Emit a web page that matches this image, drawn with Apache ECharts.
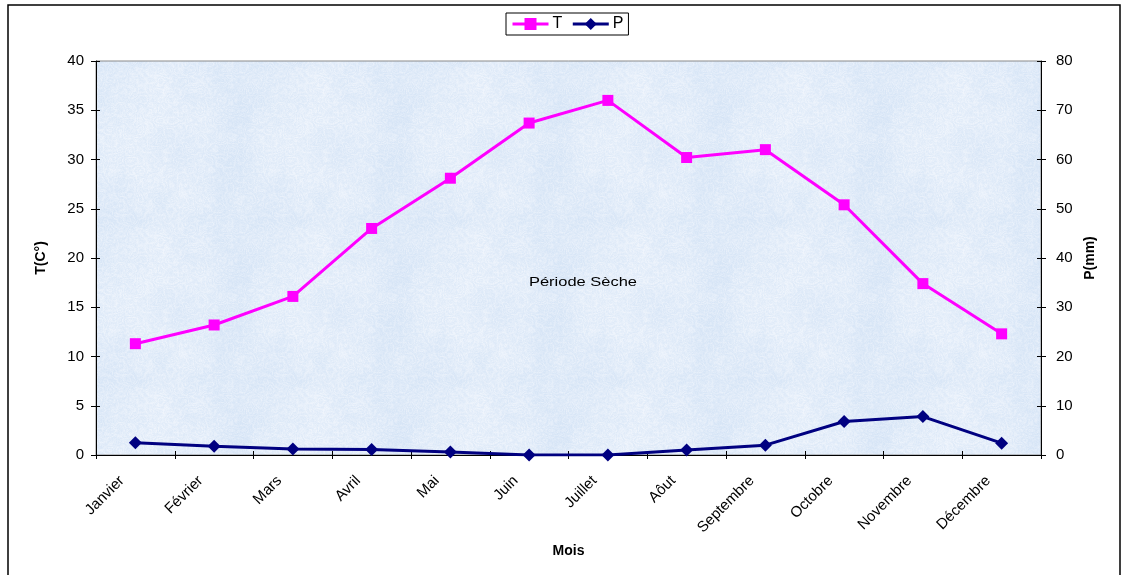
<!DOCTYPE html>
<html>
<head>
<meta charset="utf-8">
<script src="https://cdn.jsdelivr.net/npm/echarts@6/dist/echarts.min.js"></script>
<style>
  html, body { margin: 0; padding: 0; background: #fff; }
  #chart { width: 1126px; height: 575px; }
</style>
</head>
<body>
<div id="chart"></div>
<script>
// Monthly climate data: mean temperature (°C) and precipitation (mm)
const months = ['Janvier', 'Février', 'Mars', 'Avril', 'Mai', 'Juin',
                'Juillet', 'Aôut', 'Septembre', 'Octobre', 'Novembre', 'Décembre'];
const temperature = [11.3, 13.2, 16.1, 23.0, 28.1, 33.7, 36.0, 30.2, 31.0, 25.4, 17.4, 12.3];
const precipitation = [2.5, 1.8, 1.2, 1.1, 0.6, 0.0, 0.0, 1.0, 2.0, 6.8, 7.8, 2.4];

const FONT = 'Liberation Sans, Arial, sans-serif';

// Light blue marbled fill for the plot area (deterministic hashed value noise)
function marbleTexture(size) {
  const c = document.createElement('canvas');
  c.width = c.height = size;
  const ctx = c.getContext('2d');
  const img = ctx.createImageData(size, size);
  const hash = (x, y, s) => {
    const v = Math.sin(x * 127.1 + y * 311.7 + s * 74.7) * 43758.5453;
    return v - Math.floor(v);
  };
  const smooth = (x, y, cell, s) => {
    const n = size / cell;
    const gx = x / cell, gy = y / cell;
    const x0 = Math.floor(gx), y0 = Math.floor(gy);
    const fx = gx - x0, fy = gy - y0;
    const ux = fx * fx * (3 - 2 * fx), uy = fy * fy * (3 - 2 * fy);
    const a = hash(x0 % n, y0 % n, s), b = hash((x0 + 1) % n, y0 % n, s);
    const d = hash(x0 % n, (y0 + 1) % n, s), e = hash((x0 + 1) % n, (y0 + 1) % n, s);
    return (a * (1 - ux) + b * ux) * (1 - uy) + (d * (1 - ux) + e * ux) * uy;
  };
  for (let y = 0; y < size; y++) {
    for (let x = 0; x < size; x++) {
      const low = smooth(x, y, 40, 1) * 0.55 + smooth(x, y, 20, 2) * 0.45;
      const vein = Math.abs(Math.sin((smooth(x, y, 10, 3) * 2 + smooth(x, y, 5, 4)) * 6.0));
      const grain = hash(x, y, 5);
      let t = 0.5 * low + 0.25 * (1 - vein) + 0.25 * grain;   // 0 = blue, 1 = white
      t = Math.min(1, Math.max(0, t));
      const i = (y * size + x) * 4;
      img.data[i]     = 210 + t * 36;
      img.data[i + 1] = 226 + t * 23;
      img.data[i + 2] = 245 + t * 9;
      img.data[i + 3] = 255;
    }
  }
  ctx.putImageData(img, 0, 0);
  return c;
}

const chart = echarts.init(document.getElementById('chart'), null, { renderer: 'canvas' });

const nameStyle = { color: '#000', fontFamily: FONT, fontSize: 14, fontWeight: 'bold' };
const tick = (inside, len) => ({ show: true, inside: inside, length: len, lineStyle: { color: '#000', width: 1 } });
const hidden = { show: false };

chart.setOption({
  animation: false,
  backgroundColor: '#fff',
  grid: {
    left: 96, right: 85, top: 61, bottom: 120,
    show: true,
    backgroundColor: { image: marbleTexture(160), repeat: 'repeat' },
    borderColor: '#8a8a8a', borderWidth: 1
  },
  legend: {
    top: 13, left: 506,
    itemWidth: 36, itemHeight: 15, itemGap: 9,
    padding: [3, 5, 3, 5],
    borderColor: '#000', borderWidth: 1, borderRadius: 0,
    lineStyle: { width: 3 },
    textStyle: { fontFamily: FONT, fontSize: 16, color: '#000', padding: [0, 0, 0, -1] },
    data: ['T', 'P']
  },
  xAxis: [{
    type: 'category', data: months, boundaryGap: true,
    name: 'Mois', nameLocation: 'middle', nameGap: 89, nameTextStyle: nameStyle,
    axisLine: { lineStyle: { color: '#000', width: 1 } },
    axisTick: tick(false, 4),
    axisLabel: { rotate: 45, margin: 10, interval: 0, color: '#000',
                 fontFamily: FONT, fontSize: 15, padding: [0, 19, 0, 0] },
    splitLine: hidden
  }, {
    // inner half of the crossing ticks
    type: 'category', data: months, boundaryGap: true, position: 'bottom', gridIndex: 0,
    axisLine: hidden, axisLabel: hidden, splitLine: hidden, axisTick: tick(true, 4)
  }],
  yAxis: [{
    type: 'value', min: 0, max: 40, interval: 5, position: 'left',
    name: 'T(C°)', nameLocation: 'middle', nameGap: 48, nameRotate: 90, nameTextStyle: nameStyle,
    axisLine: { show: true, lineStyle: { color: '#000' } },
    axisTick: tick(false, 5),
    axisLabel: { margin: 12, color: '#000', fontFamily: FONT, fontSize: 15 },
    splitLine: hidden
  }, {
    type: 'value', min: 0, max: 80, interval: 10, position: 'right',
    name: 'P(mm)', nameLocation: 'middle', nameGap: 40, nameRotate: 90, nameTextStyle: nameStyle,
    axisLine: { show: true, lineStyle: { color: '#000' } },
    axisTick: tick(false, 5),
    axisLabel: { margin: 15, color: '#000', fontFamily: FONT, fontSize: 15 },
    splitLine: hidden
  }, {
    type: 'value', min: 0, max: 40, interval: 5, position: 'left',
    axisLine: hidden, axisLabel: hidden, splitLine: hidden, axisTick: tick(true, 4)
  }, {
    type: 'value', min: 0, max: 80, interval: 10, position: 'right',
    axisLine: hidden, axisLabel: hidden, splitLine: hidden, axisTick: tick(true, 4)
  }],
  series: [{
    name: 'T', type: 'line', yAxisIndex: 0, data: temperature,
    symbol: 'rect', symbolSize: 11, showAllSymbol: true,
    lineStyle: { color: '#ff00ff', width: 3 },
    itemStyle: { color: '#ff00ff' }
  }, {
    name: 'P', type: 'line', yAxisIndex: 1, data: precipitation,
    symbol: 'diamond', symbolSize: [13, 13], showAllSymbol: true,
    lineStyle: { color: '#000080', width: 3 },
    itemStyle: { color: '#000080' }
  }],
  graphic: [{
    type: 'rect', silent: true, z: -1,
    shape: { x: 8, y: 5, width: 1112, height: 580 },
    style: { fill: 'none', stroke: '#000', lineWidth: 1.5 }
  }, {
    type: 'text', silent: true, x: 583, y: 282, scaleX: 1.22,
    style: { text: 'Période Sèche', fontFamily: FONT, fontSize: 13.5, fill: '#000',
             align: 'center', verticalAlign: 'middle' }
  }]
});
</script>
</body>
</html>
